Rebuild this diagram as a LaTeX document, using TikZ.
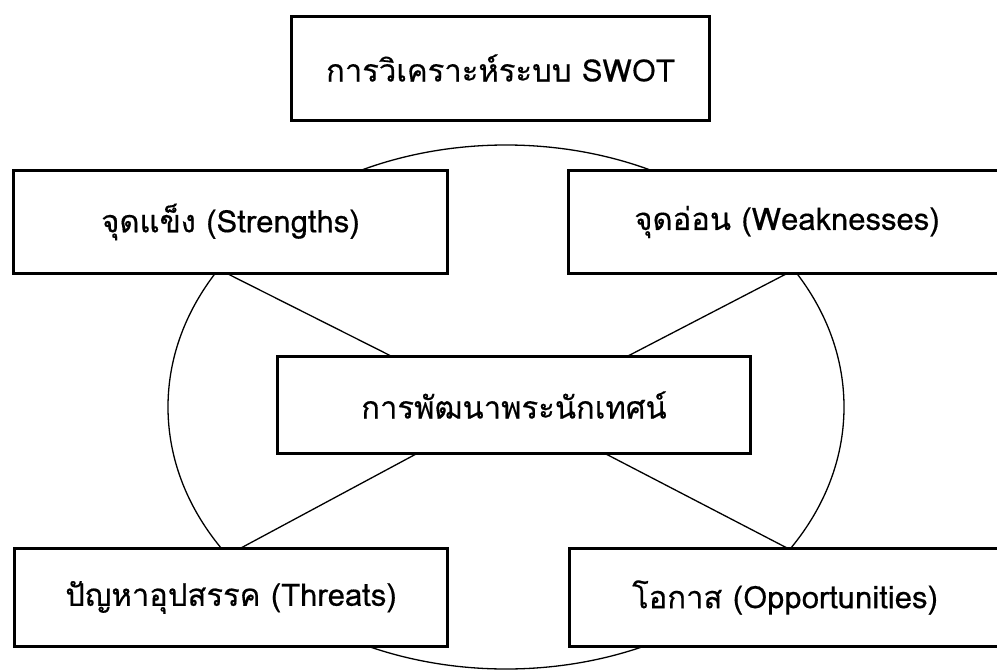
\documentclass[tikz,border=0pt]{standalone}
\usepackage{fontspec}
\usetikzlibrary{shapes.geometric}
\newfontfamily\thaifont[Script=Thai,FakeBold=0.4]{Loma}
\tikzset{
  box/.style={draw=black, line width=3pt, fill=white, inner sep=0pt, font=\thaifont\fontsize{31}{36}\selectfont},
  link/.style={draw=black, line width=1.3pt},
  oval/.style={draw=black, line width=1.3pt, ellipse, inner sep=0pt}
}
\begin{document}
\begin{tikzpicture}[x=1pt,y=-1pt]
\useasboundingbox (0,0) rectangle (997,672);
\fill[white] (0,0) rectangle (997,672);
\node[oval, minimum width=676pt, minimum height=524pt] (E) at (506,407) {};
% boxes
\node[box, minimum width=418pt, minimum height=104pt] (title) at (500.5,68) {การวิเคราะห์ระบบ SWOT};
\node[box, minimum width=434pt, minimum height=103pt] (S) at (230.5,222) {จุดแข็ง (Strengths)};
\node[box, minimum width=437pt, minimum height=103pt] (W) at (787,222) {จุดอ่อน (Weaknesses)};
\node[box, minimum width=473pt, minimum height=97pt] (C) at (514,405) {การพัฒนาพระนักเทศน์};
\node[box, minimum width=433pt, minimum height=98pt] (T) at (231,597.5) {ปัญหาอุปสรรค (Threats)};
\node[box, minimum width=431pt, minimum height=98pt] (O) at (785,597.5) {โอกาส (Opportunities)};
% connectors
\draw[link] ([xshift=-3.5pt,yshift=1.5pt]S.south) -- ([xshift=-122pt,yshift=-1.5pt]C.north);
\draw[link] ([yshift=1.5pt]W.south) -- ([xshift=113pt,yshift=-1.5pt]C.north);
\draw[link] ([xshift=9pt,yshift=-1.5pt]T.north) -- ([xshift=-97pt,yshift=1.5pt]C.south);
\draw[link] ([xshift=3pt,yshift=-1.5pt]O.north) -- ([xshift=91pt,yshift=1.5pt]C.south);
\end{tikzpicture}
\end{document}
